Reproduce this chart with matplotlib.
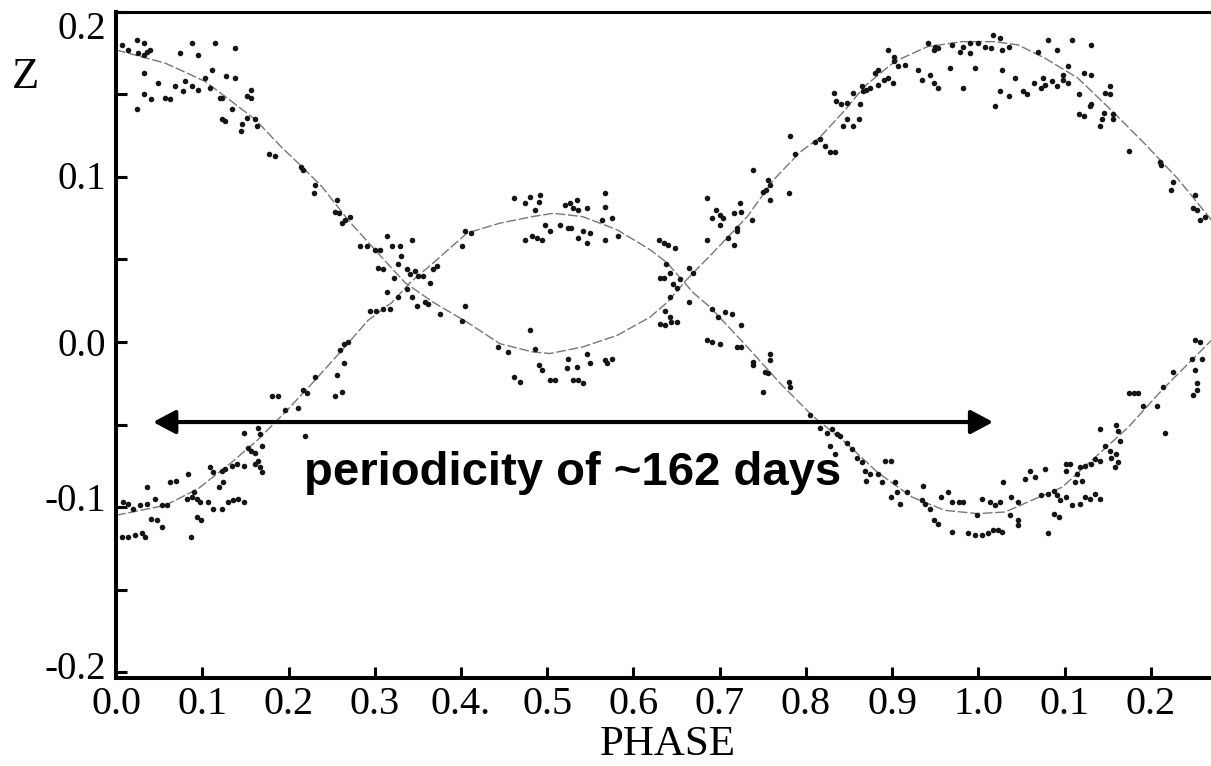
import numpy as np
import matplotlib
matplotlib.use('Agg')
import matplotlib.pyplot as plt
from matplotlib.transforms import ScaledTranslation

# fitted curves
fit_a_phase = [0.000, 0.057, 0.103, 0.126, 0.161, 0.192, 0.216, 0.239, 0.269, 0.300,
               0.335, 0.368, 0.407, 0.445, 0.483, 0.503, 0.541, 0.581, 0.619, 0.639,
               0.662, 0.692, 0.732, 0.762, 0.793, 0.816, 0.846, 0.868, 0.903, 0.941,
               0.981, 1.019, 1.046, 1.077, 1.115, 1.155, 1.193, 1.231, 1.270]
fit_a_z = [0.177, 0.169, 0.158, 0.149, 0.135, 0.118, 0.106, 0.094, 0.074, 0.056,
           0.036, 0.024, 0.012, -0.001, -0.006, -0.007, -0.003, 0.004, 0.015, 0.024,
           0.038, 0.054, 0.076, 0.098, 0.115, 0.124, 0.141, 0.155, 0.170, 0.179,
           0.182, 0.182, 0.180, 0.172, 0.160, 0.140, 0.120, 0.099, 0.074]

fit_b_phase = [0.000, 0.057, 0.095, 0.134, 0.165, 0.199, 0.231, 0.262, 0.292, 0.320,
               0.341, 0.368, 0.407, 0.445, 0.483, 0.507, 0.541, 0.581, 0.619, 0.639,
               0.669, 0.689, 0.732, 0.770, 0.808, 0.846, 0.883, 0.923, 0.961, 0.999,
               1.031, 1.057, 1.097, 1.135, 1.173, 1.213, 1.251, 1.270]
fit_b_z = [-0.105, -0.099, -0.089, -0.073, -0.059, -0.041, -0.023, -0.005, 0.013, 0.024,
           0.036, 0.048, 0.066, 0.072, 0.076, 0.078, 0.076, 0.068, 0.056, 0.048,
           0.030, 0.021, -0.003, -0.025, -0.045, -0.061, -0.079, -0.094, -0.102, -0.104,
           -0.103, -0.097, -0.088, -0.070, -0.052, -0.029, -0.009, 0.001]

# observed points, phase
obs_phase = [
    # early phase, high branch
    0.007, 0.014, 0.024, 0.032, 0.026, 0.036, 0.039, 0.033, 0.088, 0.115, 0.138, 0.074, 0.095,
    0.032, 0.049, 0.068, 0.080, 0.078, 0.088, 0.095, 0.103, 0.111, 0.109, 0.128, 0.138,
    0.032, 0.041, 0.057, 0.063, 0.024, 0.121, 0.123, 0.157, 0.152, 0.157, 0.134, 0.123,
    0.126, 0.152, 0.146, 0.161, 0.163, 0.145, 0.177, 0.184, 0.215, 0.217, 0.231, 0.229,
    0.256, 0.254, 0.258, 0.266, 0.271, 0.262, 0.401, 0.405, 0.412,
    # first crossing
    0.283, 0.291, 0.300, 0.306, 0.314, 0.320, 0.329, 0.331, 0.343, 0.327, 0.304, 0.310,
    0.322, 0.337, 0.341, 0.347, 0.350, 0.356, 0.364, 0.372, 0.368, 0.314, 0.327, 0.337,
    0.343, 0.349, 0.358, 0.362, 0.294, 0.302, 0.310, 0.318, 0.376, 0.401, 0.405, 0.264,
    0.269, 0.260, 0.264, 0.256, 0.231, 0.217, 0.221, 0.254, 0.262,
    # early phase, low branch
    0.008, 0.014, 0.020, 0.028, 0.036, 0.036, 0.045, 0.053, 0.059, 0.041, 0.047, 0.053,
    0.007, 0.014, 0.022, 0.030, 0.034, 0.063, 0.070, 0.084, 0.082, 0.088, 0.090, 0.094,
    0.097, 0.107, 0.109, 0.113, 0.123, 0.126, 0.134, 0.140, 0.148, 0.119, 0.124, 0.113,
    0.123, 0.130, 0.136, 0.142, 0.148, 0.094, 0.099, 0.087, 0.148, 0.153, 0.157, 0.161,
    0.165, 0.167, 0.169, 0.165, 0.167, 0.169, 0.161, 0.181, 0.188, 0.196, 0.211, 0.219,
    # middle, upper part
    0.461, 0.474, 0.480, 0.492, 0.491, 0.486, 0.521, 0.526, 0.534, 0.536, 0.530, 0.546,
    0.567, 0.567, 0.563, 0.575, 0.515, 0.497, 0.503, 0.474, 0.482, 0.488, 0.494, 0.524,
    0.528, 0.536, 0.542, 0.546, 0.550, 0.567, 0.582, 0.629, 0.635, 0.640, 0.648, 0.638,
    0.631, 0.635, 0.642, 0.646, 0.650, 0.664, 0.669, 0.654, 0.642, 0.685, 0.691, 0.696,
    0.700, 0.704, 0.700, 0.685, 0.716, 0.723, 0.725, 0.737, 0.720, 0.720, 0.710, 0.716,
    0.738, 0.756, 0.758, 0.754, 0.750, 0.758, 0.780, 0.781, 0.787, 0.810, 0.816, 0.822,
    0.828, 0.834, 0.832, 0.835, 0.841, 0.843,
    # middle, lower part
    0.480, 0.486, 0.455, 0.443, 0.490, 0.494, 0.524, 0.523, 0.534, 0.550, 0.546, 0.567,
    0.575, 0.569, 0.461, 0.468, 0.503, 0.509, 0.530, 0.536, 0.542, 0.637, 0.642, 0.631,
    0.637, 0.644, 0.650, 0.664, 0.691, 0.706, 0.714, 0.698, 0.725, 0.685, 0.691, 0.700,
    0.720, 0.725, 0.739, 0.739, 0.758, 0.758, 0.752, 0.756, 0.750, 0.780, 0.781, 0.805,
    0.816, 0.824, 0.830, 0.836, 0.839, 0.834, 0.828,
    # late phase, upper part
    0.895, 0.902, 0.902, 0.907, 0.915, 0.884, 0.880, 0.895, 0.890, 0.901, 0.884, 0.874,
    0.870, 0.866, 0.865, 0.855, 0.847, 0.863, 0.847, 0.861, 0.855, 0.942, 0.950, 0.948,
    0.953, 0.969, 0.982, 0.990, 1.000, 1.008, 1.015, 1.017, 1.025, 1.027, 1.035, 0.979,
    0.990, 0.930, 0.934, 0.944, 0.948, 0.953, 0.967, 0.982, 0.996, 1.027, 1.025, 1.035,
    1.019, 1.042, 1.052, 1.056, 1.064, 1.073, 1.077, 1.075, 1.085, 1.091, 1.069, 1.081,
    1.091, 1.108, 1.131, 1.104, 1.098, 1.098, 1.104, 1.122, 1.131, 1.116, 1.129, 1.131,
    1.116, 1.122, 1.143, 1.141, 1.145, 1.147, 1.152, 1.152, 1.156, 1.156, 1.174, 1.210,
    1.212, 1.226, 1.223, 1.251, 1.249, 1.253, 1.257, 1.263,
    # late phase, lower part
    0.847, 0.853, 0.859, 0.865, 0.868, 0.874, 0.884, 0.870, 0.892, 0.899, 0.888, 0.903,
    0.905, 0.899, 0.909, 0.917, 0.936, 0.934, 0.938, 0.944, 0.948, 0.953, 0.957, 0.965,
    0.969, 0.977, 0.982, 0.969, 0.988, 0.996, 1.004, 1.011, 1.017, 1.023, 1.027, 0.998,
    1.004, 1.013, 1.019, 1.025, 1.029, 1.038, 1.037, 1.046, 1.046, 1.046, 1.054, 1.060,
    1.066, 1.077, 1.073, 1.081, 1.087, 1.091, 1.094, 1.087, 1.093, 1.081, 1.101, 1.108,
    1.118, 1.123, 1.129, 1.135, 1.141, 1.101, 1.106, 1.102, 1.114, 1.112, 1.120, 1.118,
    1.123, 1.131, 1.135, 1.141, 1.141, 1.147, 1.152, 1.154, 1.158, 1.160, 1.162, 1.160,
    1.162, 1.164, 1.174, 1.180, 1.185, 1.191, 1.207, 1.214, 1.216, 1.226, 1.247, 1.251,
    1.257, 1.259, 1.251, 1.253, 1.253, 1.249,
]

# observed points, Z
obs_z = [
    0.180, 0.177, 0.183, 0.181, 0.175, 0.176, 0.177, 0.174, 0.181, 0.181, 0.178, 0.175, 0.174,
    0.163, 0.157, 0.155, 0.158, 0.152, 0.155, 0.153, 0.160, 0.165, 0.154, 0.161, 0.160,
    0.150, 0.147, 0.148, 0.147, 0.141, 0.148, 0.148, 0.153, 0.149, 0.148, 0.141, 0.135,
    0.134, 0.136, 0.132, 0.135, 0.131, 0.128, 0.114, 0.113, 0.106, 0.104, 0.095, 0.090,
    0.086, 0.079, 0.078, 0.074, 0.076, 0.072, 0.058, 0.067, 0.066,
    0.058, 0.058, 0.056, 0.056, 0.064, 0.058, 0.058, 0.052, 0.062, 0.047, 0.045, 0.044,
    0.039, 0.044, 0.041, 0.043, 0.040, 0.040, 0.036, 0.046, 0.044, 0.030, 0.027, 0.032,
    0.027, 0.022, 0.024, 0.023, 0.019, 0.019, 0.020, 0.020, 0.017, 0.013, 0.022, -0.001,
    0.000, -0.005, -0.013, -0.020, -0.021, -0.029, -0.031, -0.033, -0.030,
    -0.097, -0.098, -0.101, -0.099, -0.098, -0.088, -0.095, -0.099, -0.099, -0.107, -0.108, -0.112,
    -0.118, -0.118, -0.117, -0.116, -0.118, -0.085, -0.084, -0.080, -0.095, -0.094, -0.091, -0.095,
    -0.097, -0.097, -0.076, -0.079, -0.078, -0.077, -0.075, -0.074, -0.075, -0.088, -0.085, -0.101,
    -0.101, -0.097, -0.096, -0.095, -0.097, -0.106, -0.108, -0.118, -0.055, -0.064, -0.066, -0.067,
    -0.052, -0.056, -0.063, -0.072, -0.076, -0.079, -0.074, -0.033, -0.033, -0.041, -0.040, -0.057,
    0.087, 0.084, 0.088, 0.089, 0.085, 0.080, 0.083, 0.084, 0.086, 0.080, 0.081, 0.081,
    0.090, 0.082, 0.074, 0.075, 0.071, 0.071, 0.067, 0.062, 0.064, 0.063, 0.062, 0.069,
    0.069, 0.063, 0.067, 0.060, 0.066, 0.062, 0.064, 0.062, 0.060, 0.059, 0.057, 0.047,
    0.039, 0.039, 0.042, 0.035, 0.033, 0.045, 0.042, 0.038, 0.027, 0.087, 0.075, 0.080,
    0.077, 0.075, 0.071, 0.062, 0.078, 0.084, 0.079, 0.074, 0.069, 0.067, 0.063, 0.059,
    0.104, 0.098, 0.095, 0.092, 0.091, 0.086, 0.090, 0.125, 0.114, 0.121, 0.123, 0.119,
    0.115, 0.115, 0.151, 0.146, 0.144, 0.131,
    0.007, -0.004, -0.006, -0.003, -0.014, -0.017, -0.010, -0.016, -0.015, -0.013, -0.007, -0.011,
    -0.010, -0.013, -0.021, -0.024, -0.023, -0.023, -0.023, -0.023, -0.025, 0.019, 0.015, 0.011,
    0.010, 0.012, 0.012, 0.024, 0.020, 0.018, 0.017, 0.015, 0.010, 0.001, 0.000, -0.001,
    -0.003, -0.003, -0.012, -0.014, -0.007, -0.011, -0.018, -0.019, -0.030, -0.024, -0.027, -0.044,
    -0.052, -0.055, -0.053, -0.056, -0.057, -0.068, -0.063,
    0.177, 0.173, 0.170, 0.167, 0.168, 0.165, 0.163, 0.160, 0.159, 0.157, 0.156, 0.154,
    0.153, 0.152, 0.155, 0.151, 0.145, 0.144, 0.135, 0.135, 0.131, 0.181, 0.179, 0.177,
    0.178, 0.180, 0.179, 0.181, 0.181, 0.179, 0.178, 0.186, 0.184, 0.177, 0.179, 0.176,
    0.175, 0.165, 0.159, 0.162, 0.157, 0.154, 0.166, 0.154, 0.166, 0.165, 0.152, 0.149,
    0.143, 0.160, 0.152, 0.150, 0.157, 0.154, 0.156, 0.160, 0.158, 0.155, 0.176, 0.183,
    0.177, 0.183, 0.180, 0.167, 0.162, 0.159, 0.157, 0.163, 0.162, 0.150, 0.143, 0.144,
    0.138, 0.137, 0.135, 0.131, 0.139, 0.151, 0.155, 0.150, 0.138, 0.135, 0.116, 0.109,
    0.107, 0.097, 0.092, 0.089, 0.081, 0.080, 0.074, 0.076,
    -0.061, -0.065, -0.070, -0.073, -0.078, -0.080, -0.080, -0.084, -0.072, -0.072, -0.085, -0.085,
    -0.091, -0.094, -0.098, -0.091, -0.087, -0.096, -0.098, -0.101, -0.108, -0.110, -0.094, -0.091,
    -0.097, -0.097, -0.097, -0.115, -0.116, -0.117, -0.117, -0.116, -0.114, -0.114, -0.115, -0.105,
    -0.095, -0.097, -0.099, -0.097, -0.085, -0.094, -0.105, -0.108, -0.111, -0.097, -0.083, -0.078,
    -0.082, -0.077, -0.093, -0.092, -0.090, -0.093, -0.096, -0.104, -0.106, -0.116, -0.094, -0.099,
    -0.098, -0.094, -0.095, -0.092, -0.095, -0.074, -0.074, -0.078, -0.080, -0.085, -0.084, -0.076,
    -0.075, -0.074, -0.071, -0.053, -0.072, -0.063, -0.066, -0.070, -0.076, -0.068, -0.073, -0.050,
    -0.054, -0.060, -0.031, -0.031, -0.031, -0.039, -0.039, -0.027, -0.055, -0.018, -0.010, 0.001,
    0.000, -0.010, -0.017, -0.025, -0.029, -0.032,
]

x_ticks = [0.0, 0.1, 0.2, 0.3, 0.4, 0.5, 0.6, 0.7, 0.8, 0.9, 1.0, 1.1, 1.2]
x_labels = ['0.0', '0.1', '0.2', '0.3', '0.4.', '0.5', '0.6', '0.7', '0.8', '0.9', '1.0', '0.1', '0.2']
y_ticks = [-0.2, -0.1, 0.0, 0.1, 0.2]
y_labels = ['-0.2', '-0.1', '0.0', '0.1', '0.2']
y_minor = [-0.15, -0.05, 0.05, 0.15]
# the scanned labels sit a little off their ticks (pixels, + is up)
y_label_shift = [7, 10, 0, 2, -13]

serif = 'Liberation Serif'

fig = plt.figure(figsize=(12.11, 7.66), dpi=100)
ax = fig.add_axes([0.0958, 0.1149, 0.9042, 0.8695])

ax.plot(fit_a_phase, fit_a_z, color='#777777', lw=1.0, linestyle=(0, (7, 2)))
ax.plot(fit_b_phase, fit_b_z, color='#777777', lw=1.0, linestyle=(0, (7, 2)))
ax.scatter(obs_phase, obs_z, s=16, color='#151515', linewidths=0, zorder=3)

ax.set_xlim(0, 1.2696)
ax.set_ylim(-0.2036, 0.2)

ax.set_xticks(x_ticks)
ax.set_xticklabels(x_labels, family=serif, fontsize=29)
ax.set_yticks(y_ticks)
ax.set_yticklabels(y_labels, family=serif, fontsize=28)
ax.set_yticks(y_minor, minor=True)
ax.tick_params(axis='both', which='both', direction='in', length=8, width=2.2, color='black')
ax.tick_params(axis='y', which='both', pad=7)
ax.tick_params(axis='x', which='both', pad=6)

for label, dy in zip(ax.get_yticklabels(), y_label_shift):
    label.set_transform(label.get_transform() + ScaledTranslation(0, dy / 100, fig.dpi_scale_trans))

ax.spines['right'].set_visible(False)
ax.spines['left'].set_linewidth(2.9)
ax.spines['bottom'].set_linewidth(2.9)
ax.spines['top'].set_linewidth(2.2)

# period arrow and note
ax.annotate('', xy=(1.017, -0.0485), xytext=(0.043, -0.0485),
            arrowprops=dict(arrowstyle='<|-|>,head_length=0.45,head_width=0.24',
                            lw=3, color='black', mutation_scale=30,
                            shrinkA=0, shrinkB=0))
ax.text(0.530, -0.0867, 'periodicity of ~162 days', ha='center', va='baseline',
        fontsize=34, fontweight='bold', family='Liberation Sans')

fig.text(26 / 1211, 1 - 77 / 766, 'Z', ha='center', va='center', fontsize=32, family=serif)
fig.text(668 / 1211, 1 - 745 / 766, 'PHASE', ha='center', va='center', fontsize=31, family=serif)

fig.savefig('out.png', dpi=100)
